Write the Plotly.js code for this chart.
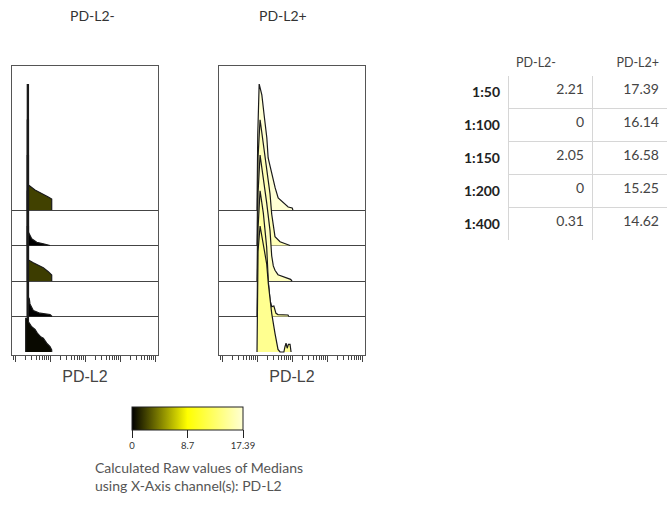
<!DOCTYPE html>
<html>
<head>
<meta charset="utf-8">
<script src="https://cdn.plot.ly/plotly-3.0.1.min.js"></script>
<style>html,body{margin:0;padding:0;background:#fff;}#chart{width:667px;height:505px;}</style>
</head>
<body>
<div id="chart"></div>
<script>
// ---------------- DATA ----------------
const dilutions = ['1:50', '1:100', '1:150', '1:200', '1:400'];
const groups = ['PD-L2-', 'PD-L2+'];
const medianNeg = [2.21, 0, 2.05, 0, 0.31];
const medianPos = [17.39, 16.14, 16.58, 15.25, 14.62];
const colorTickVals = [0, 8.7, 17.39];
const colorTickText = ['0', '8.7', '17.39'];
const axisTitle = 'PD-L2';
const captionLines = ['Calculated Raw values of Medians', 'using X-Axis channel(s): PD-L2'];

// histogram outlines (PD-L2 value, count normalised to mode) — PD-L2- panel
const negX50  = [22.2, 22.2, 24.0, 24.0, 36.9, 63.7, 88.5, 110.7, 110.7];
const negY50  = [0, 1.0, 1.0, 0.198, 0.159, 0.127, 0.103, 0.087, 0];
const negX100 = [22.2, 22.2, 24.0, 24.0, 29.7, 41.3, 63.7, 79.6, 99];
const negY100 = [0, 1.0, 1.0, 0.106, 0.053, 0.026, 0.013, 0.008, 0];
const negX150 = [22.2, 22.2, 24.0, 24.0, 33.0, 45.8, 63.7, 88.5, 110.7, 110.7];
const negY150 = [0, 1.0, 1.0, 0.167, 0.145, 0.127, 0.106, 0.074, 0.048, 0];
const negX200 = [22.2, 22.2, 24.0, 24.0, 25.4, 26.5, 33.0, 51.3, 99, 113];
const negY200 = [0, 1.0, 1.0, 0.153, 0.14, 0.10, 0.048, 0.026, 0.016, 0];
const negX400 = [20.0, 20.0, 22.2, 22.2, 24.0, 24.0, 29.7, 36.9, 43.0, 53.7, 63.7, 79.6, 99, 110.7, 110.7];
const negY400 = [0, 0.267, 0.267, 1.0, 1.0, 0.24, 0.20, 0.18, 0.15, 0.12, 0.11, 0.07, 0.043, 0.016, 0];

// PD-L2+ panel
const posX50  = [99, 104, 114, 136, 158, 189, 206, 263, 327, 398, 553, 769, 1000, 1050];
const posY50  = [0, 0.6, 1.0, 0.913, 0.754, 0.571, 0.413, 0.278, 0.175, 0.095, 0.056, 0.024, 0.016, 0];
const posX100 = [99, 106, 121, 150, 187, 233, 260, 289, 323, 450, 625, 760, 869];
const posY100 = [0, 0.7, 1.0, 0.81, 0.6, 0.41, 0.25, 0.14, 0.07, 0.03, 0.017, 0.01, 0];
const posX150 = [99, 106, 121, 150, 187, 233, 260, 289, 323, 394, 625, 900, 991];
const posY150 = [0, 0.7, 1.0, 0.83, 0.62, 0.40, 0.20, 0.12, 0.085, 0.05, 0.03, 0.013, 0];
const posX200 = [99, 106, 121, 150, 187, 208, 233, 260, 300, 323, 345, 394, 760, 800];
const posY200 = [0, 0.7, 1.0, 0.82, 0.55, 0.28, 0.13, 0.078, 0.083, 0.06, 0.025, 0.015, 0.012, 0];
const posX400 = [99, 106, 121, 150, 187, 208, 233, 260, 323, 394, 450, 580, 620, 668, 720, 780, 869, 930];
const posY400 = [0, 0.8, 1.0, 0.85, 0.70, 0.545, 0.41, 0.307, 0.148, 0.02, 0, 0, 0.04, 0.07, 0.03, 0.06, 0.06, 0];

const negX = [negX50, negX100, negX150, negX200, negX400];
const negY = [negY50, negY100, negY150, negY200, negY400];
const posX = [posX50, posX100, posX150, posX200, posX400];
const posY = [posY50, posY100, posY150, posY200, posY400];

// ---------------- LAYOUT GEOMETRY (pixels) ----------------
const W = 667, H = 505;
const panelX = [[12, 158], [219, 365]];
const frameTop = 66, frameBottom = 355;
const baselines = [210, 245.5, 281, 316.5, 352];
const unitPx = 126, lowPad = 0.05;
const xRange = [0.91, 5.08];

const colorscale = [[0, '#000000'], [0.5, '#ffff00'], [1, '#ffffd4']];
const cmax = Math.max(...medianNeg, ...medianPos);

function hexToRgb(h) { return [1, 3, 5].map(i => parseInt(h.substr(i, 2), 16)); }
function scaleColor(v) {
  const t = Math.max(0, Math.min(1, v / cmax));
  for (let k = 1; k < colorscale.length; k++) {
    if (t <= colorscale[k][0]) {
      const a = colorscale[k - 1], b = colorscale[k];
      const f = (t - a[0]) / (b[0] - a[0]);
      const ca = hexToRgb(a[1]), cb = hexToRgb(b[1]);
      const c = ca.map((x, j) => Math.round(x + (cb[j] - x) * f));
      return 'rgb(' + c.join(',') + ')';
    }
  }
  return colorscale[colorscale.length - 1][1];
}
const fx = px => px / W;
const fy = px => 1 - px / H;

const font = 'Lato, "Open Sans", sans-serif';
const layout = {
  width: W, height: H,
  margin: {l: 0, r: 0, t: 0, b: 0},
  paper_bgcolor: '#ffffff', plot_bgcolor: 'rgba(0,0,0,0)',
  showlegend: false,
  font: {family: font, color: '#333'},
  annotations: [],
};

const traces = [];
[0, 1].forEach(p => {
  const xName = p === 0 ? 'xaxis' : 'xaxis2';
  const xId = p === 0 ? 'x' : 'x2';
  const frameNum = p === 0 ? 1 : 7;
  const frameId = frameNum === 1 ? 'y' : 'y' + frameNum;
  layout[xName] = {
    type: 'log', range: xRange, domain: [fx(panelX[p][0]), fx(panelX[p][1])],
    anchor: frameId, showline: true, mirror: true, linecolor: '#555', linewidth: 1,
    ticks: 'outside', ticklen: 6, tickcolor: '#444', tickwidth: 1, dtick: 1,
    showticklabels: false, showgrid: false, zeroline: false, fixedrange: true,
    minor: {ticks: 'outside', ticklen: 4, tickcolor: '#444', dtick: 'D1', showgrid: false},
    title: {text: axisTitle, font: {family: '"Liberation Sans", Arial, sans-serif', size: 16, color: '#444'}, standoff: 9},
  };
  layout[frameNum === 1 ? 'yaxis' : 'yaxis' + frameNum] = {
    domain: [fy(frameBottom), fy(frameTop)], anchor: xId, range: [0, 1],
    showline: true, mirror: true, linecolor: '#555', linewidth: 1,
    ticks: '', showticklabels: false, showgrid: false, zeroline: false, fixedrange: true,
  };
  // frame subplot carries the (invisible) median markers; the first one owns the colour bar
  const meds = p === 0 ? medianNeg : medianPos;
  const markerTrace = {
    type: 'scatter', mode: 'markers', xaxis: xId, yaxis: frameId,
    x: meds, y: meds, cliponaxis: true, hoverinfo: 'skip',
    marker: {color: meds, colorscale: colorscale, cmin: 0, cmax: cmax, opacity: 0, size: 1, showscale: false},
  };
  if (p === 0) {
    markerTrace.marker.showscale = true;
    markerTrace.marker.colorbar = {
      orientation: 'h', thickness: 23, lenmode: 'pixels', len: 111,
      x: fx(132), xanchor: 'left', y: fy(407), yanchor: 'top', xpad: 0, ypad: 0,
      outlinewidth: 1, outlinecolor: '#222', tickmode: 'array', tickvals: colorTickVals, ticktext: colorTickText,
      ticks: 'outside', ticklen: 8, tickcolor: '#222', tickfont: {size: 9.5, color: '#333'},
    };
  }
  traces.push(markerTrace);
  for (let i = 0; i < 5; i++) {
    const n = frameNum + 1 + i;
    const b = baselines[i];
    layout['yaxis' + n] = {
      domain: [fy(b + lowPad * unitPx), fy(b - unitPx)], anchor: xId, range: [-lowPad, 1],
      showline: false, ticks: '', showticklabels: false, showgrid: false,
      zeroline: i < 4, zerolinecolor: '#444', zerolinewidth: 1, fixedrange: true,
    };
    const med = meds[i];
    traces.push({
      type: 'scatter', mode: 'lines', xaxis: xId, yaxis: 'y' + n,
      x: p === 0 ? negX[i] : posX[i], y: p === 0 ? negY[i] : posY[i],
      fill: 'toself', fillcolor: scaleColor(med),
      line: {color: '#1a1a1a', width: 1.2}, hoverinfo: 'skip', name: groups[p] + ' ' + dilutions[i],
    });
  }
  layout.annotations.push({
    text: groups[p], xref: 'paper', yref: 'paper', x: fx(p === 0 ? 92 : 283), y: fy(15),
    xanchor: 'center', yanchor: 'middle', showarrow: false, font: {size: 14, color: '#333'},
  });
});

// medians table
traces.push({
  type: 'table',
  domain: {x: [fx(443), 1], y: [fy(240), fy(50)]},
  columnwidth: [65, 84, 75],
  header: {
    values: [''].concat(groups), align: ['right', 'left', 'right'], height: 25,
    fill: {color: '#ffffff'}, line: {color: '#ffffff', width: 1}, font: {size: 12.5, color: '#444'},
  },
  cells: {
    values: [dilutions.map(d => '<b>' + d + '</b>'), medianNeg, medianPos],
    align: ['right', 'right', 'right'], height: 32,
    fill: {color: '#ffffff'}, line: {color: ['#ffffff', '#d6d6d6', '#d6d6d6'], width: 1},
    font: {size: 14, color: ['#222', '#444', '#444']},
  },
});

layout.annotations.push({
  text: captionLines.join('<br>'), xref: 'paper', yref: 'paper', x: fx(93), y: fy(476),
  xanchor: 'left', yanchor: 'middle', align: 'left', showarrow: false, font: {size: 14, color: '#555'},
});

Plotly.newPlot('chart', traces, layout, {staticPlot: true, displayModeBar: false});
</script>
</body>
</html>
